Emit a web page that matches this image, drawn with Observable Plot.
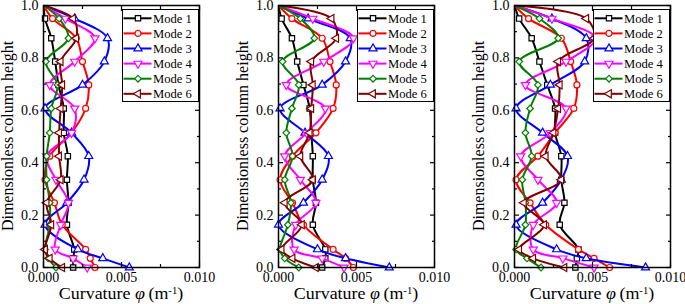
<!DOCTYPE html>
<html><head><meta charset="utf-8">
<script src="https://cdn.jsdelivr.net/npm/d3@7"></script>
<script src="https://cdn.jsdelivr.net/npm/@observablehq/plot@0.6"></script>
<style>
body{margin:0;background:#fff;}
#root{position:relative;width:685px;height:304px;overflow:hidden;background:#fff;font-family:"Liberation Serif","Times New Roman",serif;color:#000;}
.panel{position:absolute;top:0;width:235px;height:304px;}
.panel svg.plot{position:absolute;left:0;top:0;}
.ylab{position:absolute;left:8px;top:136px;transform:translate(-50%,-50%) rotate(-90deg);white-space:nowrap;font-size:16px;line-height:16px;}
.xlab{position:absolute;left:121px;top:286px;transform:translateX(-50%) scaleX(1.12);white-space:nowrap;font-size:16px;line-height:16px;}
.xlab sup{font-size:9.5px;vertical-align:5px;line-height:0;}
.legend{position:absolute;left:122px;top:9px;}
</style></head><body><div id="root"></div>
<script>
// node heights (dimensionless), bottom to top
const heights = [0, 0.035, 0.069, 0.163, 0.247, 0.335, 0.425, 0.514, 0.607, 0.697, 0.786, 0.875, 0.95, 1.0];
const modeNames = ["Mode 1", "Mode 2", "Mode 3", "Mode 4", "Mode 5", "Mode 6"];
const modeColors = ["#000000", "#ff0000", "#0000ff", "#ff00ff", "#008000", "#800000"];

// curvature (1/m) at each node, one array per mode
const panelA = [
  [0.0019, 0.0019, 0.00197, 0.0015, 0.0016, 0.0015, 0.00156, 0.0013, 0.0013, 0.00096, 0.00075, 0.0005, 0.0001, 0],
  [0.0033, 0.003, 0.0027, 0.0012, 0.0007, 0.0001, 0.0004, 0.0018, 0.0027, 0.0029, 0.0025, 0.0021, 0.00058, 0],
  [0.0055, 0.0038, 0.0022, 0.0001, 0.0015, 0.0026, 0.0029, 0.0018, 0.0001, 0.0025, 0.0039, 0.0041, 0.002, 0],
  [0.0028, 0.0019, 0.00075, 0.0011, 0.0016, 0.0008, 0.0002, 0.0018, 0.002, 0.0004, 0.002, 0.0033, 0.0014, 0],
  [0.0008, 0.0003, 0.0001, 0.0004, 0.0004, 0.0002, 0.0002, 0.0004, 0.0005, 0.0009, 0.00015, 0.0016, 0.001, 0],
  [0.0012, 0.0004, 0.0001, 0.0005, 0.0002, 0.0011, 0.001, 0.001, 0.0011, 0.0012, 0.0011, 0.0021, 0.0019, 0]
];
const panelB = [
  [0.0028, 0.003, 0.003, 0.0022, 0.0024, 0.0022, 0.0022, 0.0021, 0.002, 0.0016, 0.0012, 0.00086, 0.0002, 0],
  [0.0048, 0.0043, 0.0035, 0.0016, 0.0009, 0.0001, 0.0009, 0.0024, 0.0035, 0.0037, 0.0033, 0.0028, 0.00086, 0],
  [0.0071, 0.0043, 0.0025, 0.0, 0.0016, 0.0028, 0.0032, 0.0017, 0.0001, 0.0028, 0.0043, 0.0046, 0.0019, 0],
  [0.0042, 0.0028, 0.001, 0.0011, 0.0024, 0.0014, 0.0004, 0.0018, 0.003, 0.0005, 0.0029, 0.0048, 0.0022, 0],
  [0.0013, 0.0004, 0.0001, 0.0006, 0.0008, 0.0004, 0.0009, 0.0005, 0.00086, 0.0013, 0.00026, 0.0023, 0.0014, 0],
  [0.0024, 0.0009, 0.0002, 0.0015, 0.0004, 0.0022, 0.0014, 0.002, 0.0021, 0.0022, 0.0021, 0.0037, 0.0034, 0]
];
const panelC = [
  [0.0039, 0.004, 0.0041, 0.0029, 0.0032, 0.003, 0.003, 0.0026, 0.0026, 0.0021, 0.0016, 0.0011, 0.0003, 0],
  [0.0061, 0.0051, 0.0041, 0.002, 0.001, 0.0001, 0.0015, 0.0026, 0.0038, 0.004, 0.0036, 0.003, 0.0009, 0],
  [0.0084, 0.0046, 0.0027, 0.0001, 0.0018, 0.003, 0.0034, 0.0018, 0.0001, 0.0023, 0.0045, 0.0046, 0.0024, 0],
  [0.0051, 0.0031, 0.0012, 0.0012, 0.0027, 0.0015, 0.0004, 0.0023, 0.0033, 0.0007, 0.0033, 0.0052, 0.0024, 0],
  [0.0017, 0.0008, 0.0001, 0.0007, 0.0007, 0.0005, 0.0011, 0.0007, 0.001, 0.0015, 0.0003, 0.0028, 0.0016, 0],
  [0.0032, 0.0012, 0.0003, 0.0019, 0.0006, 0.003, 0.002, 0.0025, 0.0028, 0.0029, 0.0028, 0.0051, 0.0046, 0]
];
const panels = [panelA, panelB, panelC];

const yMajor = [0, 0.2, 0.4, 0.6, 0.8, 1.0];
const yMinor = [0.1, 0.3, 0.5, 0.7, 0.9];
const xMajor = [0, 0.005, 0.01];
const xMinor = [0.0025, 0.0075];

const s3 = Math.sqrt(3);
const triDown = {draw(ctx, size) { const a = Math.sqrt(size / (s3 * 3)); ctx.moveTo(0, 2 * a); ctx.lineTo(s3 * a, -a); ctx.lineTo(-s3 * a, -a); ctx.closePath(); }};
const triLeft = {draw(ctx, size) { const a = Math.sqrt(size / (s3 * 3)); ctx.moveTo(-2 * a, 0); ctx.lineTo(a, -s3 * a); ctx.lineTo(a, s3 * a); ctx.closePath(); }};
const symbols = [d3.symbolSquare, d3.symbolCircle, d3.symbolTriangle, triDown, d3.symbolDiamond2, triLeft];

const FONT = '"Liberation Serif", "Times New Roman", serif';

function makePanel(vals) {
  const marks = [];
  vals.forEach((arr, m) => {
    const rows = arr.map((c, i) => ({c, h: heights[i]}));
    marks.push(Plot.line(rows, {x: "c", y: "h", stroke: modeColors[m], strokeWidth: 2, curve: "catmull-rom", clip: true}));
    marks.push(Plot.dot(rows.filter(d => d.h < 1), {x: "c", y: "h", symbol: symbols[m], r: 3, stroke: modeColors[m], strokeWidth: 1.2, fill: "white"}));
  });
  marks.push(Plot.frame({stroke: "black", strokeWidth: 1.5}));
  marks.push(Plot.axisY(yMajor, {anchor: "left", tickSize: 0, tickPadding: 5, tickFormat: d3.format(".1f"), label: null}));
  marks.push(Plot.axisY(yMajor, {anchor: "left", tickSize: -5, strokeWidth: 1.2, fill: "none", label: null}));
  marks.push(Plot.axisY(yMinor, {anchor: "left", tickSize: -3, strokeWidth: 1.2, fill: "none", label: null}));
  marks.push(Plot.axisY(yMajor, {anchor: "right", tickSize: -5, strokeWidth: 1.2, fill: "none", label: null}));
  marks.push(Plot.axisY(yMinor, {anchor: "right", tickSize: -3, strokeWidth: 1.2, fill: "none", label: null}));
  marks.push(Plot.axisX(xMajor, {anchor: "bottom", tickSize: 0, tickPadding: 5, tickFormat: d3.format(".3f"), label: null}));
  marks.push(Plot.axisX(xMajor, {anchor: "bottom", tickSize: -5, strokeWidth: 1.2, fill: "none", label: null}));
  marks.push(Plot.axisX(xMinor, {anchor: "bottom", tickSize: -3, strokeWidth: 1.2, fill: "none", label: null}));
  marks.push(Plot.axisX(xMajor, {anchor: "top", tickSize: -5, strokeWidth: 1.2, fill: "none", label: null}));
  marks.push(Plot.axisX(xMinor, {anchor: "top", tickSize: -3, strokeWidth: 1.2, fill: "none", label: null}));
  return Plot.plot({
    width: 235, height: 304,
    marginLeft: 43, marginRight: 36, marginTop: 5, marginBottom: 37,
    x: {domain: [0, 0.01]},
    y: {domain: [0, 1]},
    style: {fontFamily: FONT, fontSize: "14px", color: "black", background: "transparent", overflow: "visible"},
    marks
  });
}

function makeLegend() {
  const w = 76, h = 92;
  const svg = d3.create("svg").attr("width", w + 1).attr("height", h + 1).attr("class", "legend");
  svg.append("rect").attr("x", 0.5).attr("y", 0.5).attr("width", w).attr("height", h).attr("fill", "white").attr("stroke", "black").attr("stroke-width", 1);
  modeNames.forEach((name, i) => {
    const y = 9.3 + 15.1 * i;
    const g = svg.append("g");
    g.append("line").attr("x1", 1.5).attr("x2", 29.5).attr("y1", y).attr("y2", y).attr("stroke", modeColors[i]).attr("stroke-width", 2);
    g.append("path").attr("d", d3.symbol(symbols[i], Math.PI * 9)()).attr("transform", `translate(16,${y})`)
      .attr("fill", "white").attr("stroke", modeColors[i]).attr("stroke-width", 1.2);
    g.append("text").attr("x", 31).attr("y", y).attr("dy", "0.34em").attr("font-family", FONT).attr("font-size", 12.6).attr("fill", "black").text(name);
  });
  return svg.node();
}

const root = document.getElementById("root");
const lefts = [0, 235, 471];
panels.forEach((vals, k) => {
  const div = document.createElement("div");
  div.className = "panel";
  div.style.left = lefts[k] + "px";
  div.appendChild(makePanel(vals));
  div.appendChild(makeLegend());
  const yl = document.createElement("div");
  yl.className = "ylab";
  yl.textContent = "Dimensionless column height";
  div.appendChild(yl);
  const xl = document.createElement("div");
  xl.className = "xlab";
  xl.innerHTML = "Curvature <i>φ</i>\u2009(m<sup>-1</sup>)";
  div.appendChild(xl);
  root.appendChild(div);
});
</script>
</body></html>
